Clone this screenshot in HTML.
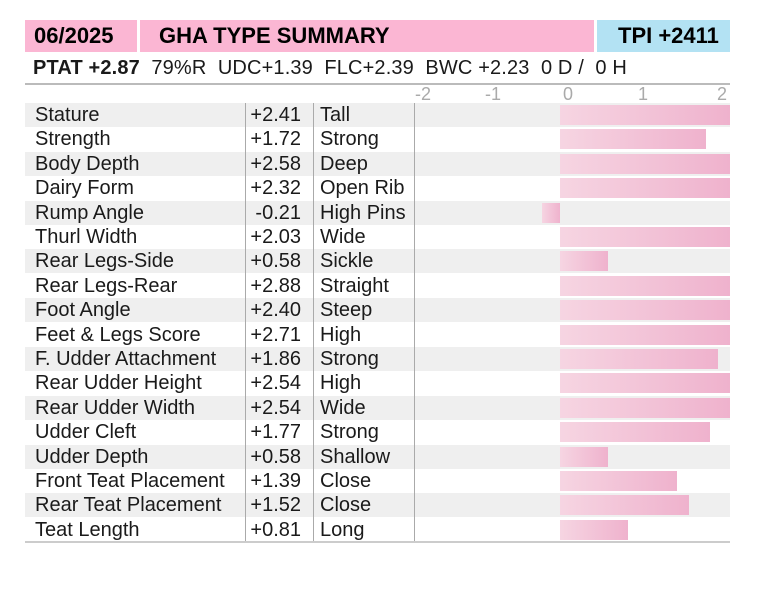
<!DOCTYPE html>
<html><head><style>
body{margin:0;width:770px;height:594px;background:#fff;font-family:"Liberation Sans",Arial,sans-serif;position:relative;overflow:hidden}
.a{position:absolute}
.row{position:absolute;left:25px;width:705px;height:24px;font-size:20px;color:#1a1a1a}
.g{background:#efefef}
.row span{position:absolute;top:0px;line-height:24px;white-space:nowrap}
.l{left:10px}.v{right:429px;text-align:right}.d{left:295px}
.bar{position:absolute;top:2px;height:20px;background:linear-gradient(90deg,#f6d5e2,#efb2cd)}
.tk{position:absolute;top:84px;font-size:18px;color:#aaa}
</style></head><body>
<div class="a" style="left:25px;top:20px;width:705px;height:32px;background:#fbb6d3"></div>
<div class="a" style="left:137px;top:20px;width:3px;height:32px;background:#fff"></div>
<div class="a" style="left:594px;top:20px;width:3px;height:32px;background:#fff"></div>
<div class="a" style="left:597px;top:20px;width:133px;height:32px;background:#b3e2f3"></div>
<div class="a" style="left:34px;top:22px;font-size:22px;font-weight:bold;line-height:28px">06/2025</div>
<div class="a" style="left:159px;top:22px;font-size:22px;font-weight:bold;line-height:28px">GHA TYPE SUMMARY</div>
<div class="a" style="left:618px;top:22px;font-size:22px;font-weight:bold;line-height:28px">TPI +2411</div>
<div class="a" style="left:33px;top:56px;font-size:20px;letter-spacing:0.15px;line-height:24px;color:#1a1a1a;white-space:pre"><b>PTAT +2.87</b>  79%R  UDC+1.39  FLC+2.39  BWC +2.23  0 D /  0 H</div>
<div class="a" style="left:25px;top:83px;width:705px;height:2px;background:#bbb"></div>
<div class="tk" style="left:415px">-2</div>
<div class="tk" style="left:485px">-1</div>
<div class="tk" style="left:563px">0</div>
<div class="tk" style="left:638px">1</div>
<div class="tk" style="left:717px">2</div>

<div class="row g" style="top:103px"><span class="l">Stature</span><span class="v">+2.41</span><span class="d">Tall</span><div class="bar" style="left:535px;width:170px"></div></div>
<div class="row" style="top:127.4px"><span class="l">Strength</span><span class="v">+1.72</span><span class="d">Strong</span><div class="bar" style="left:535px;width:146px"></div></div>
<div class="row g" style="top:151.8px"><span class="l">Body Depth</span><span class="v">+2.58</span><span class="d">Deep</span><div class="bar" style="left:535px;width:170px"></div></div>
<div class="row" style="top:176.2px"><span class="l">Dairy Form</span><span class="v">+2.32</span><span class="d">Open Rib</span><div class="bar" style="left:535px;width:170px"></div></div>
<div class="row g" style="top:200.6px"><span class="l">Rump Angle</span><span class="v">-0.21</span><span class="d">High Pins</span><div class="bar" style="left:517px;width:18px"></div></div>
<div class="row" style="top:225px"><span class="l">Thurl Width</span><span class="v">+2.03</span><span class="d">Wide</span><div class="bar" style="left:535px;width:170px"></div></div>
<div class="row g" style="top:249.4px"><span class="l">Rear Legs-Side</span><span class="v">+0.58</span><span class="d">Sickle</span><div class="bar" style="left:535px;width:48px"></div></div>
<div class="row" style="top:273.8px"><span class="l">Rear Legs-Rear</span><span class="v">+2.88</span><span class="d">Straight</span><div class="bar" style="left:535px;width:170px"></div></div>
<div class="row g" style="top:298.2px"><span class="l">Foot Angle</span><span class="v">+2.40</span><span class="d">Steep</span><div class="bar" style="left:535px;width:170px"></div></div>
<div class="row" style="top:322.6px"><span class="l">Feet &amp; Legs Score</span><span class="v">+2.71</span><span class="d">High</span><div class="bar" style="left:535px;width:170px"></div></div>
<div class="row g" style="top:347px"><span class="l">F. Udder Attachment</span><span class="v">+1.86</span><span class="d">Strong</span><div class="bar" style="left:535px;width:158px"></div></div>
<div class="row" style="top:371.4px"><span class="l">Rear Udder Height</span><span class="v">+2.54</span><span class="d">High</span><div class="bar" style="left:535px;width:170px"></div></div>
<div class="row g" style="top:395.8px"><span class="l">Rear Udder Width</span><span class="v">+2.54</span><span class="d">Wide</span><div class="bar" style="left:535px;width:170px"></div></div>
<div class="row" style="top:420.2px"><span class="l">Udder Cleft</span><span class="v">+1.77</span><span class="d">Strong</span><div class="bar" style="left:535px;width:150px"></div></div>
<div class="row g" style="top:444.6px"><span class="l">Udder Depth</span><span class="v">+0.58</span><span class="d">Shallow</span><div class="bar" style="left:535px;width:48px"></div></div>
<div class="row" style="top:469px"><span class="l">Front Teat Placement</span><span class="v">+1.39</span><span class="d">Close</span><div class="bar" style="left:535px;width:117px"></div></div>
<div class="row g" style="top:493.4px"><span class="l">Rear Teat Placement</span><span class="v">+1.52</span><span class="d">Close</span><div class="bar" style="left:535px;width:129px"></div></div>
<div class="row" style="top:517.8px"><span class="l">Teat Length</span><span class="v">+0.81</span><span class="d">Long</span><div class="bar" style="left:535px;width:68px"></div></div>

<div class="a" style="left:245px;top:103px;width:1px;height:439px;background:#aaa"></div>
<div class="a" style="left:313px;top:103px;width:1px;height:439px;background:#aaa"></div>
<div class="a" style="left:414px;top:103px;width:1px;height:439px;background:#aaa"></div>
<div class="a" style="left:25px;top:541px;width:705px;height:2px;background:#ccc"></div>
</body></html>
